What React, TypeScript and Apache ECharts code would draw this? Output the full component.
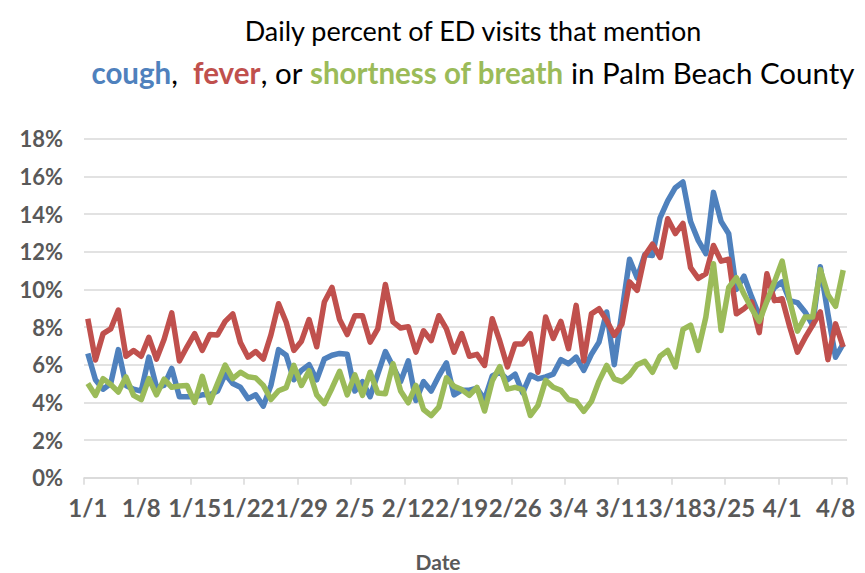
import React, { useEffect, useRef } from "react";
import * as echarts from "echarts";

// Days per month shown (2020: Jan, Feb (leap), Mar, Apr 1-9)
const monthDays: number[] = [31, 29, 31, 9];
const dates: string[] = [];
monthDays.forEach((n, m) => {
  for (let d = 1; d <= n; d++) dates.push(`${m + 1}/${d}`);
});

const cough: number[] = [
  6.6, 5.2, 4.7, 5.0, 6.8, 4.9, 4.7, 4.6, 6.4, 4.8,
  4.9, 5.8, 4.3, 4.3, 4.3, 4.4, 4.4, 4.6, 5.5, 5.0,
  4.8, 4.2, 4.4, 3.8, 4.9, 6.8, 6.5, 5.2, 5.7, 6.0,
  5.2, 6.3, 6.5, 6.6, 6.55, 4.6, 5.1, 4.3, 5.5, 6.7,
  5.9, 5.1, 6.2, 4.1, 5.1, 4.6, 5.4, 6.1, 4.4, 4.65,
  4.65, 4.75, 4.15, 5.4, 5.6, 5.2, 5.5, 4.5, 5.45, 5.25,
  5.35, 5.5, 6.27, 6.05, 6.4, 5.7, 6.55, 7.2, 8.8, 6.0,
  8.8, 11.6, 10.6, 11.85, 11.8, 13.8, 14.7, 15.4, 15.7, 13.6,
  12.6, 11.9, 15.15, 13.6, 12.95, 10.0, 10.7, 9.6, 8.6, 9.4,
  10.1, 10.4, 9.4, 9.3, 8.8, 8.1, 11.2, 8.7, 6.4, 7.1,
];

const fever: number[] = [
  8.44, 6.25, 7.65, 7.9, 8.9, 6.45, 6.75, 6.45, 7.45, 6.3,
  7.35, 8.75, 6.2, 6.95, 7.65, 6.76, 7.6, 7.58, 8.3, 8.7,
  7.18, 6.4, 6.7, 6.3, 7.58, 9.24, 8.25, 6.76, 7.25, 8.4,
  6.95, 9.33, 10.1, 8.4, 7.6, 8.6, 8.6, 7.2, 7.9, 10.26,
  8.27, 7.95, 8.02, 6.67, 7.8, 7.28, 8.6, 7.9, 6.67, 7.65,
  6.45, 6.55, 5.96, 8.44, 7.25, 5.88, 7.1, 7.1, 7.65, 5.6,
  8.53, 7.4, 8.3, 6.85, 9.15, 6.2, 8.7, 8.97, 8.35, 7.56,
  8.15, 10.4, 9.95, 11.8, 12.4, 11.7, 13.75, 12.96, 13.5, 11.15,
  10.58, 10.83, 12.33, 11.5, 11.6, 8.7, 8.97, 9.33, 7.7, 10.83,
  9.4, 9.5, 8.0, 6.67, 7.42, 8.1, 8.8, 6.27, 8.17, 6.94,
];

const breath: number[] = [
  5.0, 4.37, 5.26, 4.95, 4.55, 5.35, 4.37, 4.14, 5.26, 4.4,
  5.23, 4.8, 4.87, 4.9, 4.0, 5.38, 4.0, 5.0, 5.98, 5.26,
  5.6, 5.36, 5.3, 4.9, 4.15, 4.62, 4.78, 5.96, 4.9, 5.68,
  4.4, 3.93, 4.75, 5.65, 4.4, 5.46, 4.37, 5.6, 4.5, 4.46,
  6.05, 4.6, 3.98, 4.9, 3.62, 3.3, 3.75, 5.3, 4.85, 4.68,
  4.37, 4.8, 3.54, 5.13, 5.9, 4.7, 4.8, 4.68, 3.3, 3.84,
  5.17, 4.8, 4.64, 4.15, 4.05, 3.52, 4.05, 5.13, 5.96, 5.25,
  5.1, 5.45, 6.0, 6.18, 5.6, 6.45, 6.76, 5.88, 7.87, 8.1,
  6.76, 8.53, 11.36, 7.82, 10.1, 10.62, 9.75, 8.98, 8.3, 9.37,
  10.4, 11.5, 9.38, 7.78, 8.53, 8.53, 11.05, 9.72, 9.1, 11.02,
];

const seriesNames: string[] = ["cough", "fever", "shortness of breath"];
const colors: string[] = ["#4F81BD", "#C0504D", "#9BBB59"];

export default function App() {
  const ref = useRef<HTMLDivElement>(null);
  useEffect(() => {
    if (!ref.current) return;
    const chart = echarts.init(ref.current, null, { renderer: "svg" });
    const font = "Lato, 'Noto Sans', sans-serif";
    const axisGray = "#595959";
    chart.setOption({
      animation: false,
      backgroundColor: "#ffffff",
      grid: { left: 84, right: 18, top: 138.7, bottom: 95.3, containLabel: false },
      graphic: [
        {
          type: "text",
          x: 473,
          y: 30,
          style: {
            text: "Daily percent of ED visits that mention",
            font: `27px ${font}`,
            fill: "#000000",
            textAlign: "center",
            textVerticalAlign: "middle",
          },
        },
        {
          type: "text",
          x: 473,
          y: 72,
          style: {
            text:
              "{b|cough}{n|,  }{r|fever}{n|, or }{g|shortness of breath}{n| in Palm Beach County}",
            textAlign: "center",
            textVerticalAlign: "middle",
            rich: {
              n: { fontFamily: font, fontSize: 29.5, fill: "#000000", color: "#000000" },
              b: { fontFamily: font, fontSize: 29.5, fontWeight: "bold", fill: colors[0], color: colors[0] },
              r: { fontFamily: font, fontSize: 29.5, fontWeight: "bold", fill: colors[1], color: colors[1] },
              g: { fontFamily: font, fontSize: 29.5, fontWeight: "bold", fill: colors[2], color: colors[2] },
            },
          },
        },
        {
          type: "text",
          x: 438,
          y: 561,
          style: {
            text: "Date",
            font: `bold 21px ${font}`,
            fill: axisGray,
            textAlign: "center",
            textVerticalAlign: "middle",
          },
        },
      ],
      xAxis: {
        type: "category",
        data: dates,
        boundaryGap: true,
        axisLine: { show: true, lineStyle: { color: "#D9D9D9", width: 1.5 } },
        axisTick: { show: true, interval: 6, length: 7, lineStyle: { color: "#D9D9D9", width: 1.5 } },
        axisLabel: {
          interval: 6,
          margin: 18,
          color: axisGray,
          fontFamily: font,
          fontWeight: "bold",
          fontSize: 24,
        },
        splitLine: { show: false },
      },
      yAxis: {
        type: "value",
        min: 0,
        max: 18,
        interval: 2,
        axisLine: { show: false },
        axisTick: { show: false },
        axisLabel: {
          formatter: "{value}%",
          margin: 21,
          color: axisGray,
          fontFamily: font,
          fontWeight: "bold",
          fontSize: 22,
        },
        splitLine: { lineStyle: { color: "#D9D9D9", width: 1.5 } },
      },
      series: [cough, fever, breath].map((d, k) => ({
        name: seriesNames[k],
        type: "line",
        data: d,
        showSymbol: false,
        symbol: "none",
        lineStyle: { color: colors[k], width: 5.5, join: "round" },
        itemStyle: { color: colors[k] },
      })),
    });
    return () => chart.dispose();
  }, []);
  return (
    <div
      ref={ref}
      style={{ position: "fixed", left: 0, top: 0, width: 865, height: 573 }}
    />
  );
}
